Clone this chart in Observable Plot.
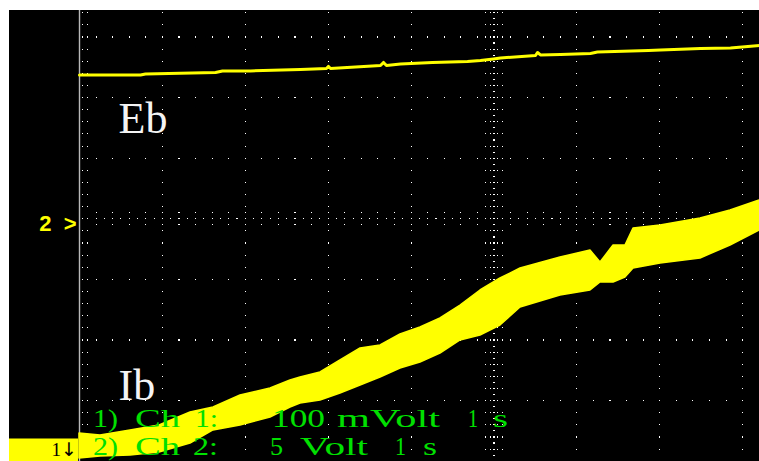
<!DOCTYPE html>
<html><head><meta charset="utf-8">
<script src="https://cdn.jsdelivr.net/npm/d3@7"></script>
<script src="https://cdn.jsdelivr.net/npm/@observablehq/plot@0.6"></script>
<style>
html,body{margin:0;padding:0;background:#fff;}
#wrap{position:absolute;left:9px;top:10px;width:750px;height:451px;background:#000;}
#wrap svg{display:block;}
</style></head><body><div id="wrap"></div>
<script>
// ---- data (time in s, 1 s/div) ----
// Channel 2: Eb, 5 Volt/div, zero at screen centre ("2 >")
const ebTime  = [0, 0.736, 0.796, 1.641, 1.725, 2.063, 2.666, 2.979, 3.004, 3.028, 3.631, 3.667, 3.703, 3.872, 4.258, 4.680, 4.837, 4.994, 5.078, 5.501, 5.525, 5.561, 5.802, 6.164, 6.248, 6.864, 7.009, 7.491, 7.853, 8.203];
const ebVolts = [11.87, 11.87, 11.95, 12.07, 12.20, 12.20, 12.32, 12.40, 12.57, 12.40, 12.65, 12.90, 12.65, 12.77, 12.90, 12.98, 13.06, 13.19, 13.27, 13.47, 13.72, 13.52, 13.56, 13.64, 13.76, 13.89, 13.93, 14.05, 14.09, 14.30];
// Channel 1: Ib, 100 mVolt/div, read relative to screen centre (upper / lower edge of the noisy band)
const ibTime = [0, 0.253, 0.615, 0.965, 1.339, 1.616, 1.942, 2.304, 2.545, 2.666, 2.907, 3.148, 3.390, 3.631, 3.872, 4.113, 4.354, 4.596, 4.837, 5.078, 5.320, 5.802, 6.164, 6.285, 6.442, 6.586, 6.683, 7.009, 7.491, 7.853, 8.203];
const ibHighMv = [-354.3, -357.6, -349.3, -341.1, -319.6, -311.4, -291.6, -280.0, -266.8, -261.9, -253.6, -233.8, -214.0, -209.1, -190.9, -179.4, -164.5, -143.1, -118.3, -98.5, -82.0, -63.9, -52.3, -72.1, -44.1, -44.1, -16.0, -11.1, 0.5, 13.7, 30.2];
const ibLowMv  = [-395.5, -392.2, -390.6, -385.6, -370.8, -349.3, -341.1, -327.9, -311.4, -304.8, -299.8, -288.3, -275.1, -261.9, -247.0, -237.1, -222.3, -200.8, -192.6, -176.1, -146.4, -126.6, -118.3, -105.1, -105.1, -96.9, -82.0, -73.8, -65.5, -44.1, -19.3];
// graticule (divisions)
const majorX = [0, 1, 2, 3, 4, 5, 6, 7, 8];
const majorY = [-4, -3, -2, -1, 0, 1, 2, 3];
const voltPerDiv = 5, mvPerDiv = 100;
const traceLabels = ["Eb", "Ib"];
const infoLine1 = ["1)", "Ch", "1:", "100", "mVolt", "1", "s"];
const infoLine2 = ["2)", "Ch", "2:", "5", "Volt", "1", "s"];

const YELLOW = "#ffff00", GREEN = "#00e000";
const xDom = [0, 8.203], yDom = [-4.005, 3.437];

// graticule dots
const dots = [];
for (const gx of majorX.slice(1)) if (gx !== 5)
  for (const gy of d3.range(-20, 18)) dots.push({x: gx, y: gy * 0.2});
for (const gy of majorY) if (gy !== 0)
  for (const gx of d3.range(1, 42)) dots.push({x: gx * 0.2, y: gy});
// centre vertical (x = 5)
for (const k of d3.range(-40, 35)) dots.push({x: 5, y: k * 0.1});
for (const k of d3.range(-20, 18)) for (const o of [-0.1, -0.04, 0.04, 0.1]) dots.push({x: 5 + o, y: k * 0.2});
// centre horizontal (y = 0)
for (const k of d3.range(1, 83)) dots.push({x: k * 0.1, y: 0});
for (const k of d3.range(1, 42)) for (const o of [-0.1, 0.1]) dots.push({x: k * 0.2, y: o});
// left border ticks
for (const k of d3.range(-20, 18)) for (const o of [0.033, 0.1]) dots.push({x: o, y: k * 0.2});

const eb = ebTime.map((t, i) => ({t, v: ebVolts[i] / voltPerDiv}));
const ib = ibTime.map((t, i) => ({t, hi: ibHighMv[i] / mvPerDiv, lo: ibLowMv[i] / mvPerDiv}));

const chart = Plot.plot({
  width: 750, height: 451,
  marginLeft: 70, marginRight: 0, marginTop: 0, marginBottom: 0,
  style: {background: "#000", overflow: "visible"},
  x: {domain: xDom, axis: null},
  y: {domain: yDom, axis: null},
  marks: [
    Plot.dot(dots, {x: "x", y: "y", r: 0.62, symbol: "square", fill: "#fff", stroke: null, shapeRendering: "crispEdges"}),
    Plot.ruleX([0], {stroke: "#b8b8b8", strokeWidth: 1.4}),
    Plot.areaY(ib, {x: "t", y1: "lo", y2: "hi", fill: YELLOW, stroke: YELLOW, strokeWidth: 1.5}),
    Plot.lineY(eb, {x: "t", y: "v", stroke: YELLOW, strokeWidth: 3}),
    Plot.text([0], {y: d => d, text: () => "2  >", frameAnchor: "left", textAnchor: "end", dx: -3, dy: 5,
      fill: YELLOW, fontSize: 22, fontWeight: "bold", fontFamily: "Liberation Sans"}),
    Plot.text([traceLabels[0]], {text: d => d, frameAnchor: "top-left", textAnchor: "start", lineAnchor: "bottom",
      dx: 39, dy: 122, fill: "#f4f4f4", fontSize: 44, fontFamily: "Liberation Serif"}),
    Plot.text([traceLabels[1]], {text: d => d, frameAnchor: "top-left", textAnchor: "start", lineAnchor: "bottom",
      dx: 39, dy: 389, fill: "#f4f4f4", fontSize: 44, fontFamily: "Liberation Serif"})
  ]
});
document.getElementById("wrap").appendChild(chart);

// overlay annotations (green channel info, ground marker)
const svg = d3.select(chart);
const g = svg.append("g").attr("font-family", "Liberation Serif").attr("font-size", 25)
  .attr("fill", GREEN).attr("text-anchor", "start");
const pos1 = [[84, 25], [126, 45], [186, 23], [263, 53], [328, 103], [459, 10], [484, 15]];
const pos2 = [[84, 25], [126, 45], [184, 25], [261, 13], [291, 68], [386, 11], [414, 14]];
infoLine1.forEach((w, i) => g.append("text").attr("x", pos1[i][0]).attr("y", 417)
  .attr("textLength", pos1[i][1]).attr("lengthAdjust", "spacingAndGlyphs").text(w));
infoLine2.forEach((w, i) => g.append("text").attr("x", pos2[i][0]).attr("y", 445)
  .attr("textLength", pos2[i][1]).attr("lengthAdjust", "spacingAndGlyphs").text(w));
svg.append("rect").attr("x", 0).attr("y", 428.5).attr("width", 69).attr("height", 22.5).attr("fill", YELLOW);
const gm = svg.append("text").attr("x", 68).attr("y", 446).attr("text-anchor", "end").attr("fill", "#000");
gm.append("tspan").attr("font-family", "Liberation Serif").attr("font-size", 19).text("1");
gm.append("tspan").attr("font-family", "DejaVu Sans").attr("font-size", 19).text("\u2193");
</script></body></html>
